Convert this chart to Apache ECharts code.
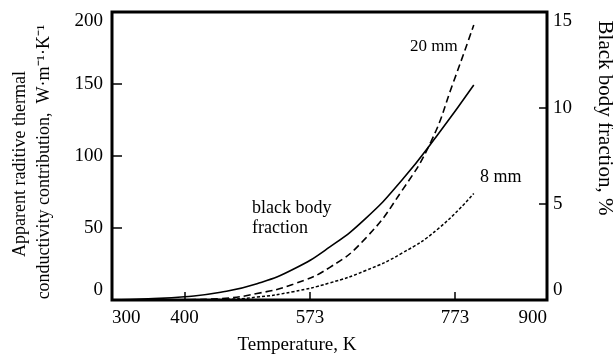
<!DOCTYPE html>
<html>
<head>
<meta charset="utf-8">
<script src="https://cdn.jsdelivr.net/npm/echarts@6/dist/echarts.min.js"></script>
<style>
html,body{margin:0;padding:0;background:#fff;}
#chart{width:613px;height:354px;}
</style>
</head>
<body>
<div id="chart"></div>
<script>
// Temperature (K)
var temps = [300, 350, 400, 450, 500, 550, 600, 650, 700, 750, 799];
// Black body fraction, % (right axis)
var blackBody = [0.0, 0.06, 0.17, 0.4, 0.85, 1.6, 2.75, 4.25, 6.25, 8.65, 11.2];
// Apparent radiative thermal conductivity contribution, W/m/K (left axis)
var temps20 = [300, 400, 450, 500, 550, 600, 650, 700, 740, 770, 799];
var mm20 = [0, 0.2, 1.0, 4.5, 11, 22.5, 43, 76, 110, 150, 191];
var temps8 = [300, 400, 450, 500, 550, 600, 650, 700, 750, 799];
var mm8 = [0, 0.1, 0.4, 2, 5.8, 11.8, 20.5, 32.5, 49.5, 74];
// Axis ticks / labels
var xLabelValues = [300, 400, 573, 773, 900];
var xTickValues = [400, 573, 773];

function pairs(xs, ys) { return xs.map(function (x, i) { return [x, ys[i]]; }); }

var FONT = 'Liberation Serif, Times New Roman, serif';
var chart = echarts.init(document.getElementById('chart'), null, {renderer: 'canvas'});
chart.setOption({
  animation: false,
  backgroundColor: '#fff',
  grid: {left: 112, right: 66, top: 12, bottom: 54, show: true, borderColor: '#000', borderWidth: 3, backgroundColor: 'transparent'},
  xAxis: {
    type: 'value', min: 300, max: 900,
    axisLine: {show: false},
    splitLine: {show: false},
    axisTick: {show: true, inside: true, length: 8, customValues: xTickValues, lineStyle: {color: '#000', width: 1.5}},
    axisLabel: {customValues: xLabelValues, color: '#000', fontFamily: FONT, fontSize: 19, margin: 9,
      alignMinLabel: 'left', alignMaxLabel: 'right'}
  },
  yAxis: [{
    type: 'value', min: 0, max: 200, interval: 50, position: 'left',
    axisLine: {show: false},
    splitLine: {show: false},
    axisTick: {show: true, inside: true, length: 10, lineStyle: {color: '#000', width: 1.5}},
    axisLabel: {color: '#000', fontFamily: FONT, fontSize: 19, margin: 9,
      verticalAlignMinLabel: 'bottom', verticalAlignMaxLabel: 'top'}
  }, {
    type: 'value', min: 0, max: 15, interval: 5, position: 'right',
    axisLine: {show: false},
    splitLine: {show: false},
    axisTick: {show: true, inside: true, length: 8, lineStyle: {color: '#000', width: 1.5}},
    axisLabel: {color: '#000', fontFamily: FONT, fontSize: 19, margin: 6,
      verticalAlignMinLabel: 'bottom', verticalAlignMaxLabel: 'top'}
  }],
  series: [{
    name: 'black body fraction', type: 'line', yAxisIndex: 1,
    data: pairs(temps, blackBody), showSymbol: false, smooth: 0.5,
    lineStyle: {color: '#000', width: 1.6, type: 'solid'}
  }, {
    name: '20 mm', type: 'line', yAxisIndex: 0,
    data: pairs(temps20, mm20), showSymbol: false, smooth: 0.5,
    lineStyle: {color: '#000', width: 1.6, type: [7, 4]}
  }, {
    name: '8 mm', type: 'line', yAxisIndex: 0,
    data: pairs(temps8, mm8), showSymbol: false, smooth: 0.5,
    lineStyle: {color: '#000', width: 1.5, type: [3, 2]}
  }],
  graphic: [
    {type: 'text', x: 20, y: 164, rotation: Math.PI / 2,
      style: {text: 'Apparent raditive thermal', font: '18px ' + FONT, fill: '#000', align: 'center', verticalAlign: 'middle'}},
    {type: 'text', x: 44, y: 162, rotation: Math.PI / 2,
      style: {text: 'conductivity contribution,  W·m⁻¹·K⁻¹', font: '18px ' + FONT, fill: '#000', align: 'center', verticalAlign: 'middle'}},
    {type: 'text', x: 605, y: 118, rotation: -Math.PI / 2,
      style: {text: 'Black body fraction, %', font: '21px ' + FONT, fill: '#000', align: 'center', verticalAlign: 'middle'}},
    {type: 'text', x: 297, y: 345,
      style: {text: 'Temperature, K', font: '19px ' + FONT, fill: '#000', align: 'center', verticalAlign: 'middle'}},
    {type: 'text', x: 410, y: 47,
      style: {text: '20 mm', font: '17px ' + FONT, fill: '#000', align: 'left', verticalAlign: 'middle'}},
    {type: 'text', x: 480, y: 177,
      style: {text: '8 mm', font: '18px ' + FONT, fill: '#000', align: 'left', verticalAlign: 'middle'}},
    {type: 'text', x: 252, y: 218,
      style: {text: 'black body\nfraction', font: '18px ' + FONT, lineHeight: 20, fill: '#000', align: 'left', verticalAlign: 'middle'}}
  ]
});
</script>
</body>
</html>
